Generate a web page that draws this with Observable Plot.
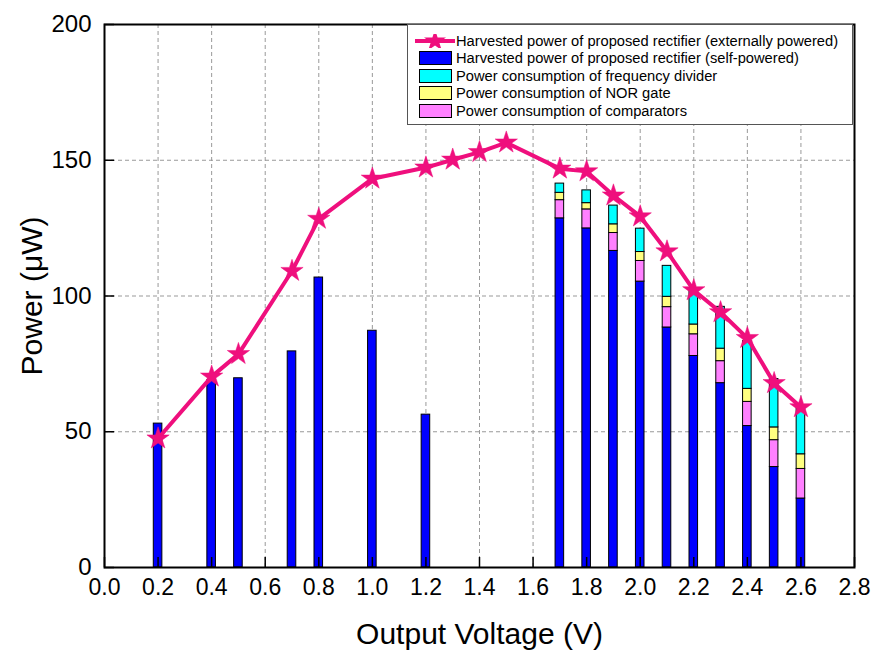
<!DOCTYPE html>
<html>
<head>
<meta charset="utf-8">
<script src="https://cdn.jsdelivr.net/npm/d3@7"></script>
<script src="https://cdn.jsdelivr.net/npm/@observablehq/plot@0.6"></script>
<style>
  body { margin: 0; background: #fff; font-family: "Liberation Sans", Arial, sans-serif; }
  #wrap { position: relative; width: 873px; height: 659px; }
  #legend { position: absolute; left: 407px; top: 24px; width: 446px; height: 101px; box-sizing: border-box;
    border: 1px solid #555; background: #fff; font-size: 14.7px; color: #000; padding-top: 7px; }
  .item { display: flex; align-items: center; height: 17.5px; white-space: nowrap; }
  .sw { width: 33px; height: 14px; margin-left: 11px; margin-right: 4px; box-sizing: border-box; border: 1px solid #000; flex: none; }
  .lsw { width: 40px; height: 14px; margin-left: 7px; margin-right: 1px; flex: none; }
</style>
</head>
<body>
<div id="wrap">
  <div id="chart"></div>
  <div id="legend"></div>
</div>
<script>
// ---- data ----
const lineVoltage = [0.2, 0.4, 0.5, 0.7, 0.8, 1.0, 1.2, 1.3, 1.4, 1.5, 1.7, 1.8, 1.9, 2.0, 2.1, 2.2, 2.3, 2.4, 2.5, 2.6];
const externallyPowered = [47.5, 70.3, 78.6, 109.2, 128.4, 143.2, 147.3, 150.2, 153.0, 156.5, 146.9, 145.9, 137.0, 129.3, 116.4, 102.1, 94.0, 84.5, 67.9, 59.0];

const barVoltage = [0.2, 0.4, 0.5, 0.7, 0.8, 1.0, 1.2, 1.7, 1.8, 1.9, 2.0, 2.1, 2.2, 2.3, 2.4, 2.5, 2.6];
const selfPowered = [53.0, 69.0, 69.7, 79.6, 106.8, 87.2, 56.3, 128.6, 124.9, 116.6, 105.3, 88.4, 77.9, 67.9, 52.1, 37.0, 25.4];
const comparators = [0, 0, 0, 0, 0, 0, 0, 6.7, 7.0, 6.6, 7.6, 7.5, 8.0, 8.1, 8.9, 9.9, 10.9];
const norGate     = [0, 0, 0, 0, 0, 0, 0, 2.7, 2.3, 3.2, 3.3, 3.8, 3.6, 4.6, 4.8, 4.7, 5.4];
const divider     = [0, 0, 0, 0, 0, 0, 0, 3.4, 4.7, 6.9, 8.6, 11.4, 12.5, 15.4, 17.6, 17.8, 17.0];

const xTicks = [0.0, 0.2, 0.4, 0.6, 0.8, 1.0, 1.2, 1.4, 1.6, 1.8, 2.0, 2.2, 2.4, 2.6, 2.8];
const yTicks = [0, 50, 100, 150, 200];

const seriesNames = [
  "Harvested power of proposed rectifier (externally powered)",
  "Harvested power of proposed rectifier (self-powered)",
  "Power consumption of frequency divider",
  "Power consumption of NOR gate",
  "Power consumption of comparators"
];
const colors = { line: "#ef0f7d", self: "#0000ff", divider: "#00ffff", nor: "#ffff80", comp: "#ff80ff" };

// ---- build stacked segments (bottom to top: self, comparators, NOR, divider) ----
const layers = [
  { key: "self", values: selfPowered },
  { key: "comp", values: comparators },
  { key: "nor", values: norGate },
  { key: "divider", values: divider }
];
const segs = [];
barVoltage.forEach((v, i) => {
  let base = 0;
  for (const L of layers) {
    const val = L.values[i];
    if (val > 0) segs.push({ v, y1: base, y2: base + val, key: L.key });
    base += val;
  }
});
const lineData = lineVoltage.map((v, i) => ({ v, p: externallyPowered[i] }));
const halfW = 0.016;

const grid = { stroke: "#999", strokeOpacity: 1, strokeDasharray: "4,3", strokeWidth: 1 };

const plot = Plot.plot({
  width: 873,
  height: 659,
  marginLeft: 104,
  marginRight: 19,
  marginTop: 24,
  marginBottom: 92,
  style: { fontFamily: "Liberation Sans, Arial, sans-serif", background: "#fff" },
  x: { domain: [0, 2.8] },
  y: { domain: [0, 200] },
  marks: [
    Plot.ruleX(xTicks.slice(1, -1), { x: d => d, ...grid }),
    Plot.ruleY(yTicks.slice(1, -1), { y: d => d, ...grid }),
    Plot.rect(segs, {
      x1: d => d.v - halfW, x2: d => d.v + halfW, y1: "y1", y2: "y2",
      fill: d => colors[d.key], stroke: "#000", strokeWidth: 1
    }),
    Plot.line(lineData, { x: "v", y: "p", stroke: colors.line, strokeWidth: 4 }),
    Plot.dot(lineData, { x: "v", y: "p", symbol: "star", r: 7, fill: colors.line, stroke: colors.line, strokeWidth: 0.5 }),
    // inward tick marks
    Plot.ruleX(xTicks, { x: d => d, y1: 0, y2: 0, insetTop: -10, stroke: "#000", strokeWidth: 1.5 }),
    Plot.ruleY(yTicks, { y: d => d, x1: 0, x2: 0, insetRight: -10, stroke: "#000", strokeWidth: 1.5 }),
    Plot.frame({ stroke: "#000", strokeWidth: 2 }),
    Plot.axisX(xTicks, { tickSize: 0, tickPadding: 11, tickFormat: d3.format(".1f"), fontSize: 23,
      label: "Output Voltage (V)", labelAnchor: "center", labelArrow: "none", labelOffset: 76 }),
    Plot.axisY(yTicks, { tickSize: 0, tickPadding: 13, fontSize: 24,
      label: "Power (μW)", labelAnchor: "center", labelArrow: "none", labelOffset: 84 })
  ]
});
document.getElementById("chart").appendChild(plot);
// enlarge axis titles
d3.select(plot).selectAll("g[aria-label='x-axis label'] text, g[aria-label='y-axis label'] text")
  .style("font-size", "30px");

// ---- legend ----
const leg = document.getElementById("legend");
const swatchColors = [null, colors.self, colors.divider, colors.nor, colors.comp];
seriesNames.forEach((name, i) => {
  const row = document.createElement("div");
  row.className = "item";
  if (i === 0) {
    row.innerHTML = `<svg class="lsw" width="40" height="14" viewBox="0 0 40 14"><line x1="0" y1="7" x2="40" y2="7" stroke="${colors.line}" stroke-width="4"/><path d="${d3.symbol(d3.symbolStar, 150)()}" transform="translate(20,7)" fill="${colors.line}"/></svg><span>${name}</span>`;
  } else {
    row.innerHTML = `<div class="sw" style="background:${swatchColors[i]}"></div><span>${name}</span>`;
  }
  leg.appendChild(row);
});
</script>
</body>
</html>
